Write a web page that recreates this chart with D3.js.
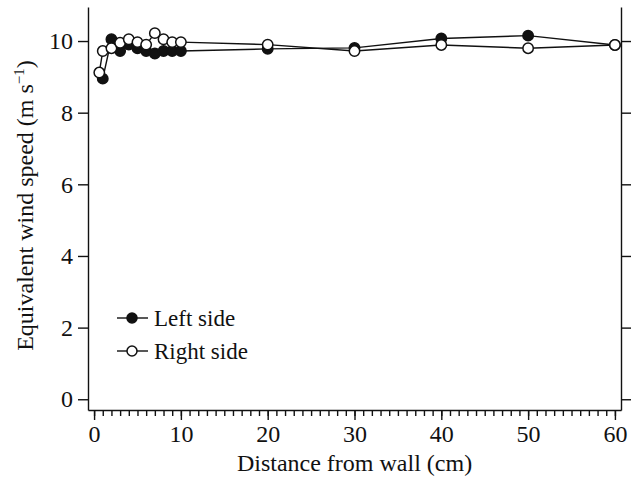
<!DOCTYPE html>
<html>
<head>
<meta charset="utf-8">
<script src="https://cdn.jsdelivr.net/npm/d3@7"></script>
<style>
  body { margin: 0; background: #fff; }
  svg text { font-family: "Liberation Serif", "DejaVu Serif", "Times New Roman", serif; fill: #111; }
</style>
</head>
<body>
<svg id="chart"></svg>
<script>
// data
const leftDist = [1, 2, 3, 4, 5, 6, 7, 8, 9, 10, 20, 30, 40, 50, 60];
const leftSpeed = [8.95, 10.05, 9.72, 9.9, 9.8, 9.72, 9.65, 9.72, 9.72, 9.72, 9.78, 9.81, 10.07, 10.15, 9.89];
const rightDist = [0.6, 1, 2, 3, 4, 5, 6, 7, 8, 9, 10, 20, 30, 40, 50, 60];
const rightSpeed = [9.12, 9.72, 9.8, 9.95, 10.05, 9.97, 9.9, 10.22, 10.05, 9.97, 9.97, 9.9, 9.72, 9.89, 9.8, 9.89];
const xTicks = [0, 10, 20, 30, 40, 50, 60];
const yTicks = [0, 2, 4, 6, 8, 10];

const serif = '"Liberation Serif", "DejaVu Serif", serif';

const svgWidth = 634, svgHeight = 477;
const margin = {top: 7, right: 13, bottom: 67, left: 88},
    width = svgWidth - margin.left - margin.right,
    height = svgHeight - margin.top - margin.bottom;

const chart = d3.select('#chart')
    .attr("width", svgWidth)
    .attr("height", svgHeight)
    .style("font-family", serif);

const g = chart.append("g")
    .attr("transform", `translate(${margin.left},${margin.top})`);

var xScale = d3.scaleLinear().domain([-0.7, 60.7]).range([0, width]);
var yScale = d3.scaleLinear().domain([-0.3, 10.95]).range([height, 0]);

const tickFont = "24px";

// bottom axis with minor ticks
g.append("g")
    .attr("transform", "translate(0," + height + ")")
    .call(d3.axisBottom(xScale).tickValues(d3.range(0, 61, 1)).tickSize(6).tickFormat(""))
    .call(a => a.select(".domain").remove());

g.append("g")
    .attr("transform", "translate(0," + height + ")")
    .call(d3.axisBottom(xScale).tickValues(xTicks).tickSize(10).tickSizeOuter(0).tickPadding(5))
    .call(a => a.selectAll("text").style("font-size", tickFont).style("font-family", serif));

// left axis
g.append("g")
    .call(d3.axisLeft(yScale).tickValues(yTicks).tickSize(10).tickSizeOuter(0).tickPadding(5))
    .call(a => a.selectAll("text").style("font-size", tickFont).style("font-family", serif));

// right axis, ticks only
g.append("g")
    .attr("transform", "translate(" + width + ",0)")
    .call(d3.axisRight(yScale).tickValues(yTicks).tickSize(10).tickSizeOuter(0).tickFormat(""));

g.selectAll(".domain, .tick line").attr("stroke", "#111").attr("stroke-width", 1.4);

// axis titles
g.append("text")
    .attr("x", width / 2)
    .attr("y", height + 61)
    .style("text-anchor", "middle")
    .style("font-size", "24px")
    .style("font-family", serif)
    .text("Distance from wall (cm)");

const yTitle = g.append("text")
    .attr("transform", "translate(" + (-55) + "," + (height / 2 - 3) + ") rotate(-90)")
    .style("text-anchor", "middle")
    .style("font-size", "24px")
    .style("font-family", serif);
yTitle.append("tspan").text("Equivalent wind speed (m s");
yTitle.append("tspan").attr("dy", -9).style("font-size", "15px").text("\u22121");
yTitle.append("tspan").attr("dy", 9).text(")");

// series
var valueline = d3.line()
    .x(d => xScale(d[0]))
    .y(d => yScale(d[1]));

function drawSeries(xs, ys, fill) {
    const pts = xs.map((x, i) => [x, ys[i]]);
    g.append("path")
        .datum(pts)
        .attr("d", valueline)
        .attr("fill", "none")
        .attr("stroke", "#111")
        .attr("stroke-width", 1.4);
    g.append("g").selectAll("circle")
        .data(pts)
        .enter().append("circle")
        .attr("cx", d => xScale(d[0]))
        .attr("cy", d => yScale(d[1]))
        .attr("r", 5.2)
        .attr("fill", fill)
        .attr("stroke", "#111")
        .attr("stroke-width", 1.5);
}

drawSeries(leftDist, leftSpeed, "#111");
drawSeries(rightDist, rightSpeed, "#fff");

// legend
const legend = [["Left side", "#111"], ["Right side", "#fff"]];
const lg = chart.append("g").attr("transform", "translate(117,318)");
legend.forEach((d, i) => {
    const row = lg.append("g").attr("transform", "translate(0," + (i * 33) + ")");
    row.append("line").attr("x1", 0).attr("x2", 31)
        .attr("stroke", "#111").attr("stroke-width", 1.4);
    row.append("circle").attr("cx", 15).attr("r", 5)
        .attr("fill", d[1]).attr("stroke", "#111").attr("stroke-width", 1.5);
    row.append("text").attr("x", 37).attr("dy", "0.33em")
        .style("font-size", "23px").style("font-family", serif).text(d[0]);
});
</script>
</body>
</html>
